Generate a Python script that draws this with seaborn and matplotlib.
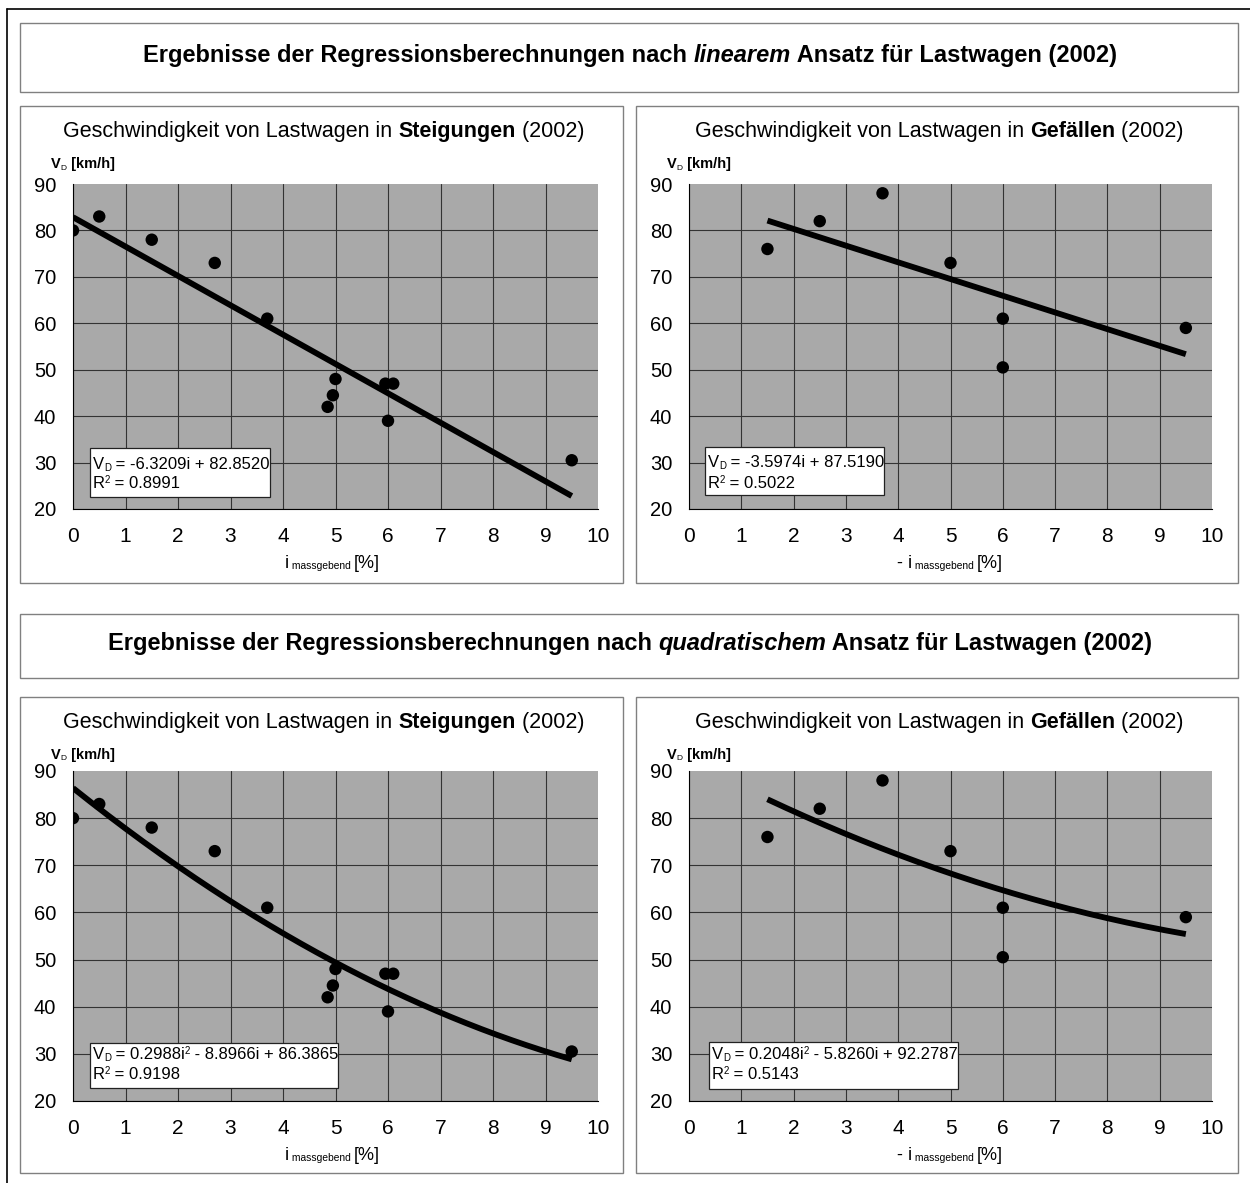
import matplotlib
matplotlib.use("Agg")
import matplotlib.pyplot as plt
from matplotlib.patches import Rectangle
from matplotlib.lines import Line2D
import numpy as np
import seaborn as sns

# ---- data -------------------------------------------------------------
# uphill gradients (Steigungen): gradient i [%] and speed V_D [km/h]
steig_i = [0.0, 0.5, 1.5, 2.7, 3.7, 4.85, 4.95, 5.0, 5.95, 6.1, 6.0, 9.5]
steig_v = [80, 83, 78, 73, 61, 42, 44.5, 48, 47, 47, 39, 30.5]

# downhill gradients (Gefaelle): -i [%] and speed V_D [km/h]
gef_i = [1.5, 2.5, 3.7, 5.0, 6.0, 6.0, 9.5]
gef_v = [76, 82, 88, 73, 61, 50.5, 59]

# regression coefficients (highest power first) and R^2
lin_steig = [-6.3209, 82.8520]
lin_steig_r2 = 0.8991
lin_gef = [-3.5974, 87.5190]
lin_gef_r2 = 0.5022
quad_steig = [0.2988, -8.8966, 86.3865]
quad_steig_r2 = 0.9198
quad_gef = [0.2048, -5.8260, 92.2787]
quad_gef_r2 = 0.5143

x_ticks = list(range(0, 11))
y_ticks = list(range(20, 91, 10))

header_texts = [
    ("Ergebnisse der Regressionsberechnungen nach ", "linearem", " Ansatz für Lastwagen (2002)"),
    ("Ergebnisse der Regressionsberechnungen nach ", "quadratischem", " Ansatz für Lastwagen (2002)"),
]

# ---- style ------------------------------------------------------------
sns.set_style("white")
plt.rcParams["font.family"] = ["Liberation Sans", "DejaVu Sans"]

W, H = 1250, 1183
fig = plt.figure(figsize=(W / 100, H / 100), dpi=100, facecolor="white")
renderer = fig.canvas.get_renderer()


def fx(x):
    return x / W


def fy(y):
    return 1 - y / H


def measure(txt, props):
    t = fig.text(0, 0, "x" + txt + "x", **props)
    w1 = t.get_window_extent(renderer).width
    t.set_text("xx")
    w2 = t.get_window_extent(renderer).width
    t.remove()
    return w1 - w2


def rich_text(x, y, segments, ha="left", z=10):
    """Draw a run of differently styled pieces on one baseline (pixel coords)."""
    items = []
    for seg in segments:
        txt, kw = seg
        props = dict(size=kw.get("size", 12), weight=kw.get("weight", "normal"),
                     style=kw.get("style", "normal"), color="black")
        items.append((txt, props, kw.get("dy", 0), measure(txt, props)))
    total = sum(i[3] for i in items)
    cur = x - total / 2 if ha == "center" else x
    for txt, props, dy, w in items:
        fig.text(fx(cur), fy(y + dy), txt, ha="left", va="baseline", zorder=z, **props)
        cur += w


def box(x0, y0, x1, y1, ec="#808080", lw=1.0, fc="none", z=0):
    fig.patches.append(Rectangle((fx(x0), fy(y1)), fx(x1) - fx(x0), fy(y0) - fy(y1),
                                 transform=fig.transFigure, facecolor=fc,
                                 edgecolor=ec, linewidth=lw, zorder=z))


# outer frame (top and left edges)
fig.lines.append(Line2D([fx(7), fx(W)], [fy(9), fy(9)], transform=fig.transFigure,
                        color="black", lw=1.2))
fig.lines.append(Line2D([fx(7), fx(7)], [fy(9), fy(H)], transform=fig.transFigure,
                        color="black", lw=1.2))

# header boxes
headers = [(23, 92, 62), (614, 678, 650)]
for (top, bot, base), (a, b, c) in zip(headers, header_texts):
    box(20, top, 1238, bot)
    rich_text(630, base, [(a, dict(size=17, weight="bold")),
                          (b, dict(size=17, weight="bold", style="italic")),
                          (c, dict(size=17, weight="bold"))], ha="center")


def fmt_num(v, lead=False):
    s = f"{abs(v):.4f}"
    if lead:
        return ("-" if v < 0 else "") + s
    return (" - " if v < 0 else " + ") + s


def panel(box_px, ax_px, word, xs, ys, coefs, r2, fit_range, ann_box, ann_base,
          xlab_x, downhill):
    bx0, by0, bx1, by1 = box_px
    box(bx0, by0, bx1, by1)
    cx = (bx0 + bx1) / 2 + 2
    rich_text(cx, by0 + 31, [("Geschwindigkeit von Lastwagen in ", dict(size=15.5)),
                             (word, dict(size=15.5, weight="bold")),
                             (" (2002)", dict(size=15.5))], ha="center")

    ax0, ay0, ax1, ay1 = ax_px
    ax = fig.add_axes([fx(ax0), fy(ay1), fx(ax1) - fx(ax0), fy(ay0) - fy(ay1)])
    ax.set_facecolor("#a9a9a9")

    xfit = np.linspace(fit_range[0], fit_range[1], 200)
    yfit = np.polyval(coefs, xfit)
    sns.lineplot(x=xfit, y=yfit, ax=ax, color="black", linewidth=4.2,
                 solid_capstyle="butt", zorder=3)
    sns.scatterplot(x=xs, y=ys, ax=ax, color="black", s=80, edgecolor="none",
                    zorder=4, legend=False)

    ax.set_xlim(0, 10)
    ax.set_ylim(20, 90)
    ax.set_xticks(x_ticks)
    ax.set_yticks(y_ticks)
    ax.set_xlabel("")
    ax.set_ylabel("")
    ax.grid(True, color="#333333", linewidth=0.8)
    ax.set_axisbelow(True)
    ax.xaxis.get_gridlines()[-1].set_visible(False)
    ax.yaxis.get_gridlines()[-1].set_visible(False)
    for s in ("top", "right"):
        ax.spines[s].set_visible(False)
    for s in ("left", "bottom"):
        ax.spines[s].set_color("black")
        ax.spines[s].set_linewidth(0.8)
    ax.tick_params(axis="both", direction="out", length=5, width=0.8, colors="black")
    ax.tick_params(axis="x", labelsize=15, pad=8)
    ax.tick_params(axis="y", labelsize=14.5, pad=7)

    # y axis title
    rich_text(ax0 - 22, by0 + 62, [("V", dict(size=10.5, weight="bold")),
                                   ("D", dict(size=6, dy=1.5)),
                                   (" [km/h]", dict(size=10.5, weight="bold"))])
    # x axis title
    segs = []
    if downhill:
        segs.append(("- ", dict(size=13)))
    segs += [("i", dict(size=13)), (" massgebend ", dict(size=7.4, dy=1)),
             ("[%]", dict(size=13))]
    rich_text(xlab_x, ay1 + 59, segs)

    # equation box
    x0, y0, x1, y1 = ann_box
    box(x0, y0, x1, y1, ec="#222222", lw=0.9, fc="white", z=5)
    if len(coefs) == 2:
        line1 = [("V", dict(size=12)), ("D", dict(size=7, dy=2)),
                 (" = " + fmt_num(coefs[0], True) + "i" + fmt_num(coefs[1]), dict(size=12))]
    else:
        line1 = [("V", dict(size=12)), ("D", dict(size=7, dy=2)),
                 (" = " + fmt_num(coefs[0], True) + "i", dict(size=12)),
                 ("2", dict(size=7, dy=-5)),
                 (fmt_num(coefs[1]) + "i" + fmt_num(coefs[2]), dict(size=12))]
    line2 = [("R", dict(size=12)), ("2", dict(size=7, dy=-5)),
             (f" = {r2:.4f}", dict(size=12))]
    rich_text(x0 + 3, ann_base[0], line1)
    rich_text(x0 + 3, ann_base[1], line2)
    return ax


# linear fits
panel((20, 106, 623, 583), (73, 184, 598, 509), "Steigungen", steig_i, steig_v,
      lin_steig, lin_steig_r2, (0, 9.5), (90, 448, 270, 497), (469, 488), 285, False)
panel((636, 106, 1238, 583), (689, 184, 1212, 509), "Gefällen", gef_i, gef_v,
      lin_gef, lin_gef_r2, (1.5, 9.5), (705, 447, 884, 495), (467, 488), 897, True)
# quadratic fits
panel((20, 697, 623, 1173), (73, 771, 598, 1101), "Steigungen", steig_i, steig_v,
      quad_steig, quad_steig_r2, (0, 9.5), (90, 1043, 338, 1088), (1059, 1079), 285, False)
panel((636, 697, 1238, 1173), (689, 771, 1212, 1101), "Gefällen", gef_i, gef_v,
      quad_gef, quad_gef_r2, (1.5, 9.5), (709, 1042, 958, 1089), (1059, 1079), 897, True)

fig.savefig("out.png", dpi=100, facecolor="white")
